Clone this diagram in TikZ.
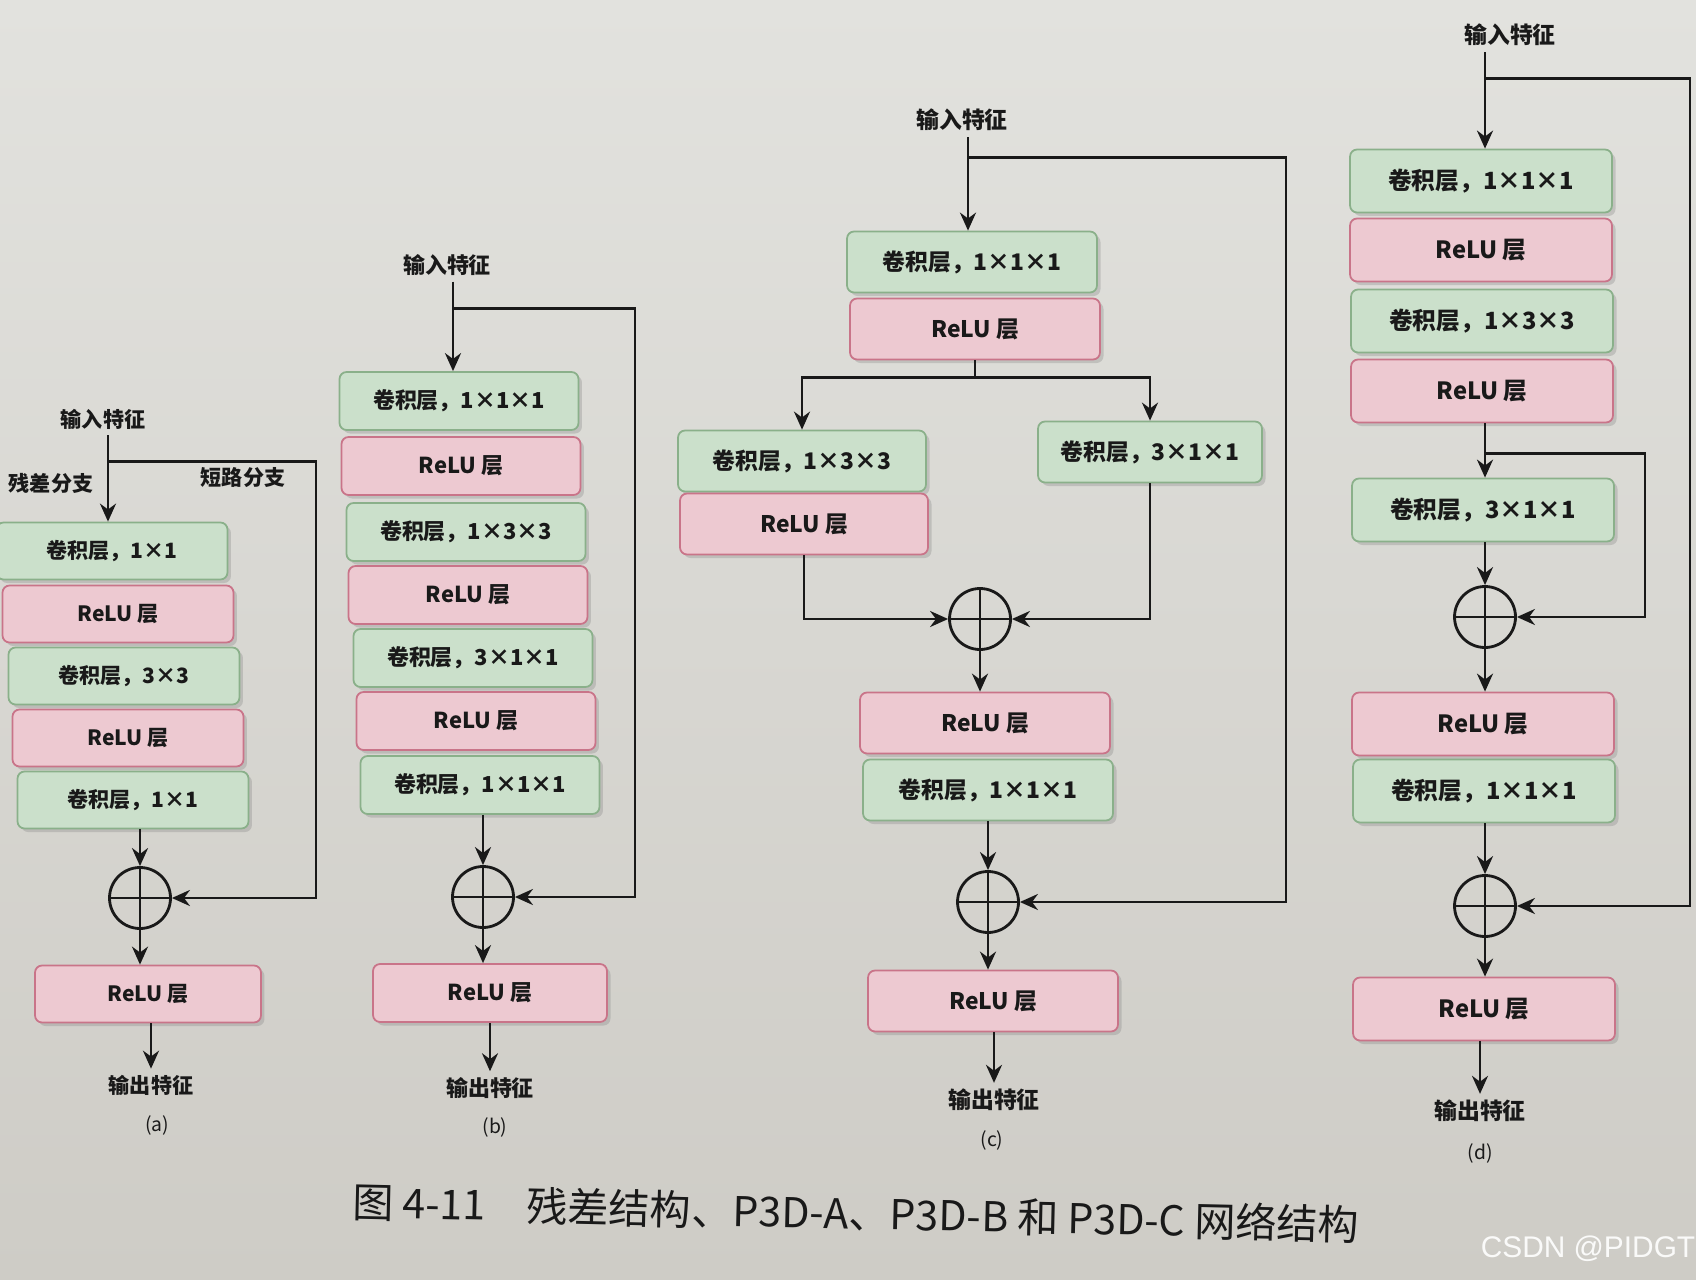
\documentclass[tikz,border=0pt]{standalone}
\usepackage{fontspec}
\setmainfont{Noto Sans CJK SC}
\newfontfamily\markfont{Liberation Sans}
\usepackage{tikz}
\usetikzlibrary{arrows.meta,shadows}
\definecolor{paperA}{RGB}{226,226,222}
\definecolor{paperB}{RGB}{206,204,198}
\definecolor{convfill}{RGB}{203,224,203}
\definecolor{convedge}{RGB}{138,176,138}
\definecolor{relufill}{RGB}{237,201,209}
\definecolor{reluedge}{RGB}{201,116,137}
\definecolor{ink}{RGB}{25,25,25}
\tikzset{
  box/.style={rectangle,rounded corners=4pt,line width=1pt,align=center,
    inner sep=0pt,text=ink,
    drop shadow={shadow xshift=2pt,shadow yshift=-2pt,opacity=0.3}},
  conv/.style={box,fill=convfill,draw=convedge},
  relu/.style={box,fill=relufill,draw=reluedge},
  io/.style={text=ink},
  tag/.style={text=ink,font=\fontsize{11}{13}\selectfont},
  arrow/.style={-{Stealth[length=3.6mm,width=3.2mm]},line width=1.6pt,draw=ink},
  sum/.style={circle,draw=ink,line width=1.6pt,minimum size=1.22cm,inner sep=0pt,
    path picture={\draw[line width=1.6pt,ink]
      (path picture bounding box.north) -- (path picture bounding box.south)
      (path picture bounding box.west) -- (path picture bounding box.east);}},
}

\begin{document}
\begin{tikzpicture}[x=0.02cm,y=-0.02cm]
\shade[top color=paperA,bottom color=paperB] (0,0) rectangle (1696,1280);
\useasboundingbox (0,0) rectangle (1696,1280);

% (a) residual block
\begin{scope}[box/.append style={minimum width=4.62cm,minimum height=1.14cm,
    font=\bfseries\fontsize{12}{14}\selectfont},
  io/.append style={font=\bfseries\fontsize{12}{14}\selectfont}]
\node[io] (ain) at (103,419) {输入特征};
\node[io] (aleft) at (51,483) {残差分支};
\node[io] (aright) at (243,478) {短路分支};
\node[conv] (a1) at (112,551) {卷积层，1×1};
\node[relu] (a2) at (118,614) {ReLU 层};
\node[conv] (a3) at (124,676) {卷积层，3×3};
\node[relu] (a4) at (128,738) {ReLU 层};
\node[conv] (a5) at (133,800) {卷积层，1×1};
\node[sum] (asum) at (140,898) {};
\node[relu,minimum width=4.52cm] (a6) at (148,994) {ReLU 层};
\node[io] (aout) at (151,1085) {输出特征};
\node[tag] (acap) at (157,1125) {(a)};
\end{scope}
\draw[arrow] (ain.south -| 108,0) -- coordinate[pos=0.3] (ajoin) (a1.north -| 108,0);
\draw[arrow] (ajoin) -- ++(208,0) |- (asum);
\draw[arrow] (a5.south -| asum) -- (asum);
\draw[arrow] (asum) -- (asum |- a6.north);
\draw[arrow] (a6.south -| aout) -- (aout);

% (b) P3D-A
\begin{scope}[box/.append style={minimum width=4.78cm,minimum height=1.16cm,
    font=\bfseries\fontsize{12.5}{15}\selectfont},
  io/.append style={font=\bfseries\fontsize{12.5}{15}\selectfont}]
\node[io] (bin) at (447,265) {输入特征};
\node[conv] (b1) at (459,401) {卷积层，1×1×1};
\node[relu] (b2) at (461,466) {ReLU 层};
\node[conv] (b3) at (466,532) {卷积层，1×3×3};
\node[relu] (b4) at (468,595) {ReLU 层};
\node[conv] (b5) at (473,658) {卷积层，3×1×1};
\node[relu] (b6) at (476,721) {ReLU 层};
\node[conv] (b7) at (480,785) {卷积层，1×1×1};
\node[sum] (bsum) at (483,897) {};
\node[relu,minimum width=4.68cm] (b8) at (490,993) {ReLU 层};
\node[io] (bout) at (490,1088) {输出特征};
\node[tag] (bcap) at (495,1127) {(b)};
\end{scope}
\draw[arrow] (bin.south -| 453,0) -- coordinate[pos=0.3] (bjoin) (b1.north -| 453,0);
\draw[arrow] (bjoin) -- ++(182,0) |- (bsum);
\draw[arrow] (b7.south -| bsum) -- (bsum);
\draw[arrow] (bsum) -- (bsum |- b8.north);
\draw[arrow] (b8.south -| bout) -- (bout);

% (c) P3D-B
\begin{scope}[box/.append style={minimum width=5cm,minimum height=1.22cm,
    font=\bfseries\fontsize{13}{15}\selectfont},
  io/.append style={font=\bfseries\fontsize{13}{15}\selectfont}]
\node[io] (cin) at (962,120) {输入特征};
\node[conv] (c1) at (972,262) {卷积层，1×1×1};
\node[relu] (c2) at (975,329) {ReLU 层};
\node[conv,minimum width=4.96cm] (c3) at (802,461) {卷积层，1×3×3};
\node[relu,minimum width=4.96cm] (c4) at (804,524) {ReLU 层};
\node[conv,minimum width=4.48cm] (c5) at (1150,452) {卷积层，3×1×1};
\node[sum] (csum1) at (980,619) {};
\node[relu] (c6) at (985,723) {ReLU 层};
\node[conv] (c7) at (988,790) {卷积层，1×1×1};
\node[sum] (csum2) at (988,902) {};
\node[relu] (c8) at (993,1001) {ReLU 层};
\node[io] (cout) at (994,1100) {输出特征};
\node[tag] (ccap) at (992,1140) {(c)};
\end{scope}
\draw[arrow] (cin.south -| 968,0) -- coordinate[pos=0.22] (cjoin) (c1.north -| 968,0);
\draw[arrow] (cjoin) -- ++(318,0) |- (csum2);
\draw[line width=1.6pt,ink] (c2.south) -- ++(0,17) coordinate (csplit);
\draw[arrow] (csplit) -| (c3);
\draw[arrow] (csplit) -| (c5);
\draw[arrow] (c4) |- (csum1);
\draw[arrow] (c5) |- (csum1);
\draw[arrow] (csum1) -- (csum1 |- c6.north);
\draw[arrow] (c7.south -| csum2) -- (csum2);
\draw[arrow] (csum2) -- (csum2 |- c8.north);
\draw[arrow] (c8.south -| cout) -- (cout);

% (d) P3D-C
\begin{scope}[box/.append style={minimum width=5.24cm,minimum height=1.26cm,
    font=\bfseries\fontsize{13.5}{16}\selectfont},
  io/.append style={font=\bfseries\fontsize{13}{15}\selectfont}]
\node[io] (din) at (1510,35) {输入特征};
\node[conv] (d1) at (1481,181) {卷积层，1×1×1};
\node[relu] (d2) at (1481,250) {ReLU 层};
\node[conv] (d3) at (1482,321) {卷积层，1×3×3};
\node[relu] (d4) at (1482,391) {ReLU 层};
\node[conv] (d5) at (1483,510) {卷积层，3×1×1};
\node[sum] (dsum1) at (1485,617) {};
\node[relu] (d6) at (1483,724) {ReLU 层};
\node[conv] (d7) at (1484,791) {卷积层，1×1×1};
\node[sum] (dsum2) at (1485,906) {};
\node[relu] (d8) at (1484,1009) {ReLU 层};
\node[io] (dout) at (1480,1111) {输出特征};
\node[tag] (dcap) at (1480,1153) {(d)};
\end{scope}
\draw[arrow] (din.south -| dsum1) -- coordinate[pos=0.27] (djoin) (d1.north -| dsum1);
\draw[arrow] (djoin) -- ++(205,0) |- (dsum2);
\draw[arrow] (d4.south -| dsum1) -- coordinate[pos=0.56] (djoin2) (d5.north -| dsum1);
\draw[arrow] (djoin2) -- ++(160,0) |- (dsum1);
\draw[arrow] (d5.south -| dsum1) -- (dsum1);
\draw[arrow] (dsum1) -- (dsum1 |- d6.north);
\draw[arrow] (d7.south -| dsum2) -- (dsum2);
\draw[arrow] (dsum2) -- (dsum2 |- d8.north);
\draw[arrow] (d8.south -| dout) -- (dout);

% caption
\node[text=ink,font=\fontsize{23.4}{28}\selectfont,rotate=-1.3] (title) at (856,1213)
  {图 4-11\quad 残差结构、P3D-A、P3D-B 和 P3D-C\ 网络结构};
\node[text=white,opacity=0.9,font=\markfont\fontsize{17}{20}\selectfont] (mark) at (1588,1249) {CSDN @PIDGT};
\end{tikzpicture}
\end{document}
